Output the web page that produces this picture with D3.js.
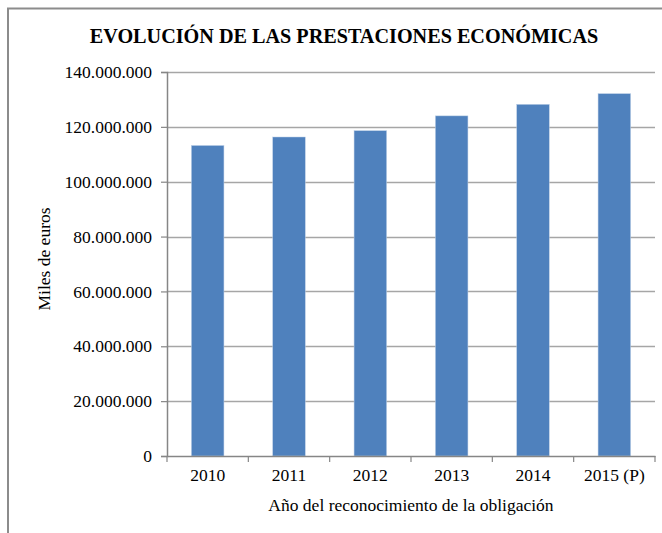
<!DOCTYPE html>
<html><head><meta charset="utf-8">
<script src="https://cdn.jsdelivr.net/npm/d3@7"></script>
<style>body{margin:0;background:#fff}svg{display:block}svg text{font-family:'Liberation Serif','Times New Roman',serif}</style>
</head><body>
<svg id="c" width="662" height="533"></svg>
<script>
const categories = ["2010","2011","2012","2013","2014","2015 (P)"];
const values = [113200000,116300000,118600000,124000000,128200000,132100000];
const yTicks = [0,20000000,40000000,60000000,80000000,100000000,120000000,140000000];
const title = "EVOLUCIÓN DE LAS PRESTACIONES ECONÓMICAS";
const xTitle = "Año del reconocimiento de la obligación";
const yTitle = "Miles de euros";

const svg = d3.select("#c");
const font = "'Liberation Serif','Times New Roman',serif";
const fs = 17.5;
const m = {l:167, r:655, t:72, b:456};

svg.append("rect").attr("x",8).attr("y",8.5).attr("width",700).attr("height",600)
  .attr("fill","none").attr("stroke","#8c8c8c").attr("stroke-width",2);

const x = d3.scaleBand().domain(categories).range([m.l,m.r]).paddingInner(0.6).paddingOuter(0.3);
const y = d3.scaleLinear().domain([0,140000000]).range([m.b,m.t]);
const fmt = v => d3.format(",")(v).replace(/,/g,".");

svg.append("g").selectAll("line").data(yTicks.filter(d=>d>0)).join("line")
  .attr("x1",m.l).attr("x2",m.r).attr("y1",d=>Math.round(y(d))+0.5).attr("y2",d=>Math.round(y(d))+0.5)
  .attr("stroke","#a6a6a6").attr("stroke-width",1.5);

svg.append("g").selectAll("rect").data(values).join("rect")
  .attr("x",(d,i)=>x(categories[i])).attr("width",x.bandwidth())
  .attr("y",d=>y(d)).attr("height",d=>y(0)-y(d))
  .attr("fill","#4f81bd").attr("stroke","#b9cde5").attr("stroke-width",0.5);

const ya = svg.append("g").attr("transform",`translate(${m.l},0)`)
  .call(d3.axisLeft(y).tickValues(yTicks).tickFormat(fmt).tickSize(6).tickPadding(9));
ya.attr("font-family",font).attr("font-size",fs);
ya.select(".domain").attr("stroke","#868686").attr("stroke-width",1.5);
ya.selectAll(".tick line").attr("stroke","#868686").attr("stroke-width",1.2);
ya.selectAll("text").attr("fill","#000").style("font-family",font).style("font-size",fs+"px");

const xa = svg.append("g").attr("transform",`translate(0,${m.b})`)
  .call(d3.axisBottom(x).tickSize(0).tickPadding(13));
xa.attr("font-family",font).attr("font-size",fs);
xa.select(".domain").attr("stroke","#868686").attr("stroke-width",1.5);
xa.selectAll("text").attr("fill","#000").style("font-family",font).style("font-size",fs+"px");
const step = x.step();
xa.selectAll("line.sep").data(d3.range(categories.length+1)).join("line").attr("class","sep")
  .attr("x1",i=>m.l+i*step).attr("x2",i=>m.l+i*step).attr("y1",0).attr("y2",6)
  .attr("stroke","#868686").attr("stroke-width",1.2);

svg.append("text").attr("x",344).attr("y",43).attr("text-anchor","middle")
  .attr("font-family",font).attr("font-weight","bold").attr("font-size",20.2).text(title);
svg.append("text").attr("x",411).attr("y",511).attr("text-anchor","middle")
  .attr("font-family",font).attr("font-size",fs).text(xTitle);
svg.append("text").attr("transform","translate(50,259) rotate(-90)").attr("text-anchor","middle")
  .attr("font-family",font).attr("font-size",fs).text(yTitle);
</script>
</body></html>
